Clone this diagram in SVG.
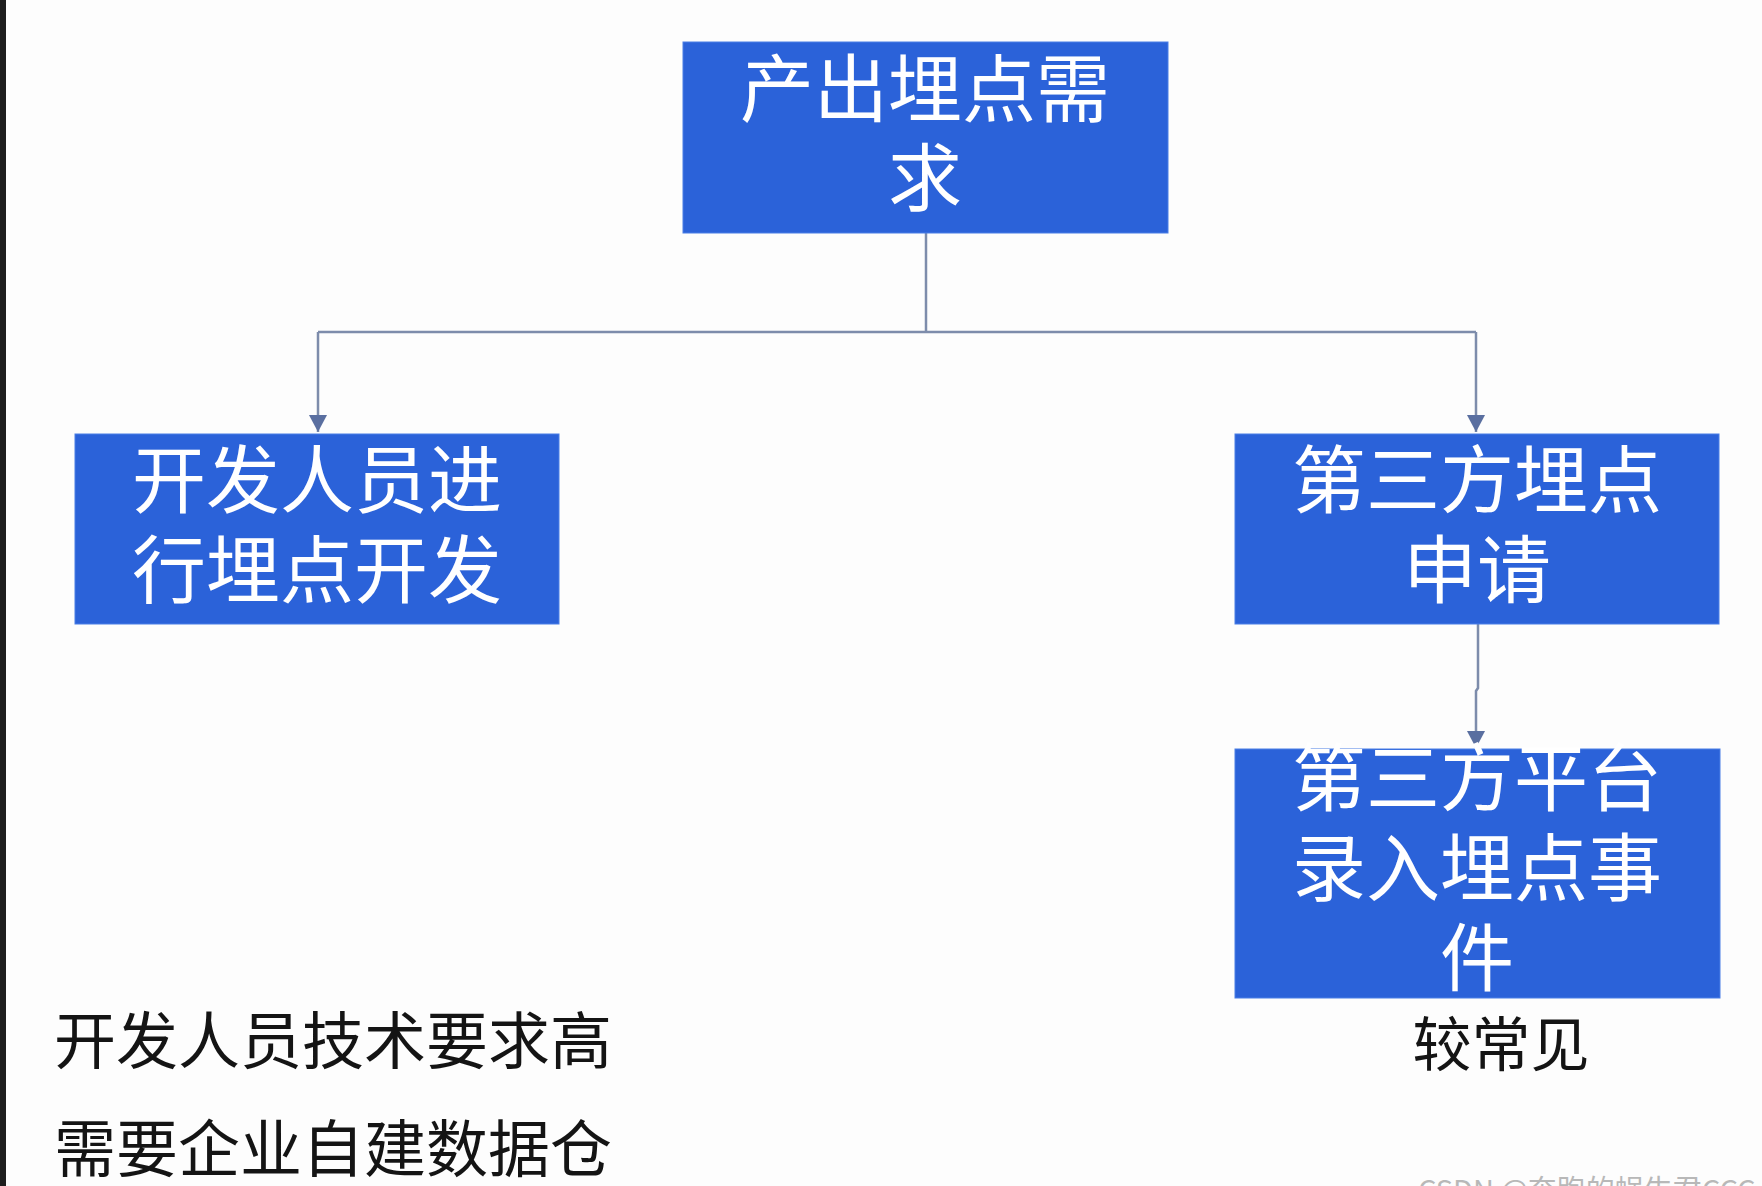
<svg xmlns="http://www.w3.org/2000/svg" width="1762" height="1186" viewBox="0 0 1762 1186">
<style>
.box{fill:#2b62d9;stroke:#4a7ee6;stroke-width:1}
.bt{fill:#ffffff;font-family:"Noto Sans CJK SC","Noto Sans",sans-serif;font-size:74px;text-anchor:middle}
.pt{fill:#141414;font-family:"Noto Sans CJK SC","Noto Sans",sans-serif}
.con{fill:none;stroke:#7d8cab;stroke-width:2.5}
</style>
<defs>
<marker id="arr" markerUnits="userSpaceOnUse" markerWidth="20" markerHeight="20" viewBox="0 0 20 20" refX="17" refY="10" orient="auto">
<path d="M0,1 L17,10 L0,19 Z" fill="#5a6fa0"/>
</marker>
</defs>
<rect width="1762" height="1186" fill="#fdfdfd"/>
<rect x="0" y="0" width="6" height="1186" fill="#1e1e1e"/>
<g id="connectors">
<path class="con" d="M926,233 V332"/>
<path class="con" d="M318,332 H1476"/>
<path class="con" d="M318,332 V432" marker-end="url(#arr)"/>
<path class="con" d="M1476,332 V432" marker-end="url(#arr)"/>
<path class="con" d="M1478,624 V688 L1476,691 V748" marker-end="url(#arr)"/>
</g>
<g id="node-top">
<rect class="box" x="683" y="42" width="485" height="191"/>
<text class="bt" x="925" y="116">产出埋点需</text>
<text class="bt" x="925" y="205">求</text>
</g>
<g id="node-dev">
<rect class="box" x="75" y="434" width="484" height="190"/>
<text class="bt" x="317" y="507">开发人员进</text>
<text class="bt" x="317" y="597">行埋点开发</text>
</g>
<g id="node-apply">
<rect class="box" x="1235" y="434" width="484" height="190"/>
<text class="bt" x="1477" y="507">第三方埋点</text>
<text class="bt" x="1477" y="597">申请</text>
</g>
<g id="node-platform">
<rect class="box" x="1235" y="749" width="485" height="249"/>
<text class="bt" x="1477" y="805">第三方平台</text>
<text class="bt" x="1477" y="895">录入埋点事</text>
<text class="bt" x="1477" y="985">件</text>
</g>
<g id="notes">
<text class="pt" x="1501" y="1066" font-size="59" text-anchor="middle">较常见</text>
<text class="pt" x="54" y="1064" font-size="62">开发人员技术要求高</text>
<text class="pt" x="54" y="1172" font-size="62">需要企业自建数据仓</text>
<text x="1418" y="1201" font-size="29" fill="#b8b8b8" font-family="Noto Sans CJK SC, Noto Sans, sans-serif">CSDN @奔跑的蜗牛君CCC</text>
</g>
</svg>
